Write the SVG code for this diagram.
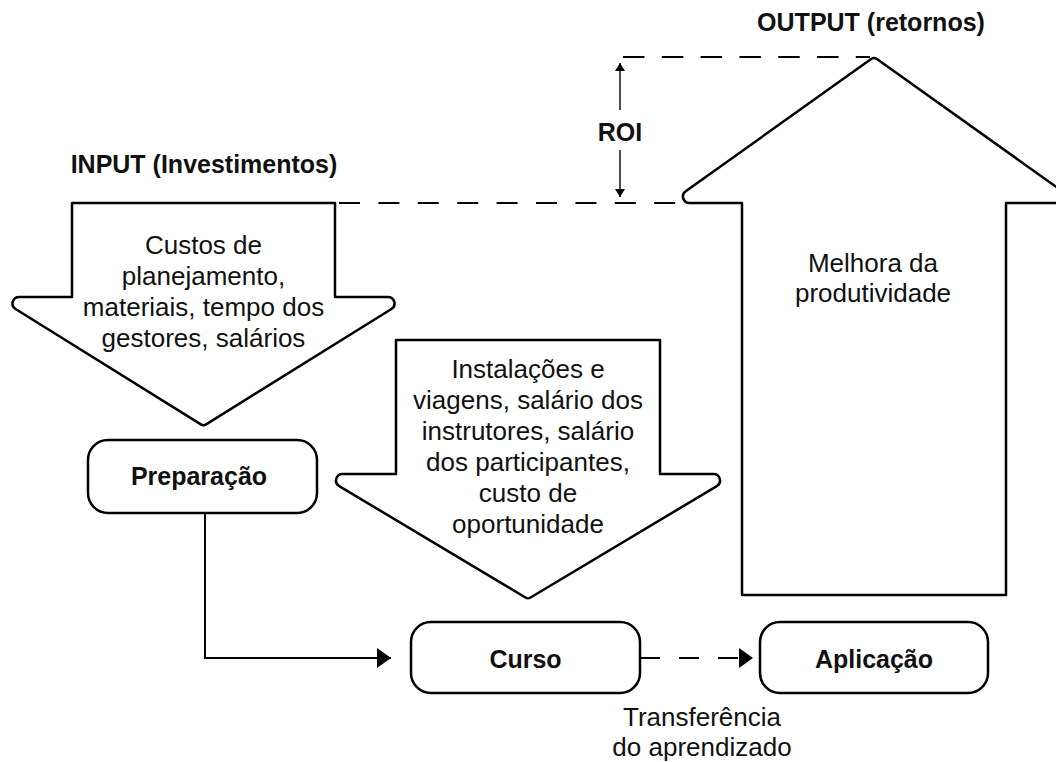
<svg xmlns="http://www.w3.org/2000/svg" width="1056" height="762" viewBox="0 0 1056 762">
  <style>
    .shape { fill: #ffffff; stroke: #000000; stroke-width: 2.5; stroke-linejoin: round; }
    .txt { font-family: "Liberation Sans", Arial, Helvetica, sans-serif; font-size: 26px; fill: #111111; text-anchor: middle; }
    .bold { font-weight: bold; font-size: 25px; }
    .link { fill: none; stroke: #000000; stroke-width: 2; }
    .dash { fill: none; stroke: #000000; stroke-width: 2; stroke-dasharray: 21 18.4; }
    .roi { fill: none; stroke: #000000; stroke-width: 1.4; }
  </style>
  <defs>
    <marker id="head" viewBox="0 0 14 20" refX="14" refY="10" markerWidth="14" markerHeight="20" markerUnits="userSpaceOnUse" orient="auto">
      <path d="M0,0 L14,10 L0,20 Z" fill="#000000"/>
    </marker>
    <marker id="small" viewBox="0 0 8 10" refX="8" refY="5" markerWidth="8" markerHeight="10" markerUnits="userSpaceOnUse" orient="auto">
      <path d="M0,0 L8,5 L0,10 Z" fill="#000000"/>
    </marker>
  </defs>

  <rect width="1056" height="762" fill="#ffffff"/>

  <!-- headings -->
  <text class="txt bold" x="871" y="31">OUTPUT (retornos)</text>
  <text class="txt bold" x="204" y="173">INPUT (Investimentos)</text>

  <!-- dashed guide lines and the ROI measure -->
  <g id="roi">
    <line class="dash" x1="623" y1="57" x2="870" y2="57" style="stroke-dasharray: 21.5 17.3"/>
    <line class="dash" x1="339" y1="203" x2="680" y2="203"/>
    <line class="roi" x1="620" y1="110" x2="620" y2="63" marker-end="url(#small)"/>
    <line class="roi" x1="620" y1="150" x2="620" y2="197" marker-end="url(#small)"/>
    <text class="txt bold" x="620" y="141">ROI</text>
  </g>

  <!-- output arrow -->
  <g id="output-arrow">
    <path class="shape" d="M742,595 V203 H689.5 A6.5,6.5 0 0 1 685.7,191.2 L871.1,59.1 A5,5 0 0 1 876.9,59.1 L1062.3,191.2 A6.5,6.5 0 0 1 1058.5,203 H1006 V595 Z"/>
    <text class="txt" x="873" y="272">Melhora da</text>
    <text class="txt" x="873" y="302">produtividade</text>
  </g>

  <!-- input arrow: preparation costs -->
  <g id="input-arrow">
    <path class="shape" d="M72,203 H335 V297 H388 A6.5,6.5 0 0 1 391.44,309 L206.14,424.36 A5,5 0 0 1 200.86,424.36 L15.56,309 A6.5,6.5 0 0 1 19,297 H72 Z"/>
    <text class="txt" x="203.5" y="254">Custos de</text>
    <text class="txt" x="203.5" y="285">planejamento,</text>
    <text class="txt" x="203.5" y="316">materiais, tempo dos</text>
    <text class="txt" x="203.5" y="347">gestores, salários</text>
  </g>

  <!-- input arrow: course costs -->
  <g id="course-arrow">
    <path class="shape" d="M396,340 H660 V474 H713.5 A6.5,6.5 0 0 1 716.83,486.08 L530.57,597.47 A5,5 0 0 1 525.43,597.47 L339.17,486.08 A6.5,6.5 0 0 1 342.5,474 H396 Z"/>
    <text class="txt" x="528" y="378">Instalações e</text>
    <text class="txt" x="528" y="409">viagens, salário dos</text>
    <text class="txt" x="528" y="440">instrutores, salário</text>
    <text class="txt" x="528" y="471">dos participantes,</text>
    <text class="txt" x="528" y="502">custo de</text>
    <text class="txt" x="528" y="533">oportunidade</text>
  </g>

  <!-- process steps -->
  <g id="preparacao">
    <rect class="shape" x="88" y="440" width="229" height="73" rx="20" ry="20"/>
    <text class="txt bold" x="199" y="485">Preparação</text>
  </g>
  <g id="curso">
    <rect class="shape" x="411" y="622" width="229" height="71" rx="20" ry="20"/>
    <text class="txt bold" x="525.5" y="668">Curso</text>
  </g>
  <g id="aplicacao">
    <rect class="shape" x="760" y="622" width="228" height="71" rx="20" ry="20"/>
    <text class="txt bold" x="874" y="668">Aplicação</text>
  </g>

  <!-- connectors -->
  <g id="connectors">
    <path class="link" d="M205,513 V658 H391" marker-end="url(#head)"/>
    <path class="link" d="M640,658 H753" style="stroke-dasharray: 20 19" marker-end="url(#head)"/>
  </g>

  <!-- connector label -->
  <text class="txt" x="702" y="726">Transferência</text>
  <text class="txt" x="702" y="756">do aprendizado</text>
</svg>
